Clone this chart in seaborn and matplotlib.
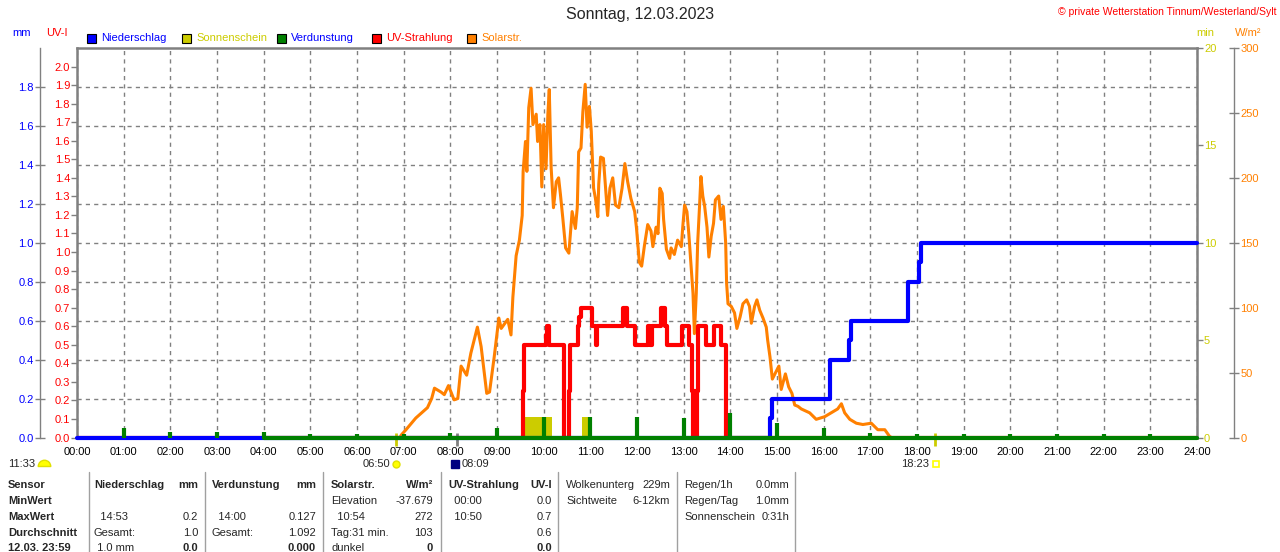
import matplotlib
matplotlib.use("Agg")
import matplotlib.pyplot as plt
import matplotlib.path as mpath
from matplotlib.lines import Line2D
from matplotlib.patches import Rectangle
import numpy as np
import seaborn as sns

sns.set_style("white")
plt.rcParams["font.family"] = ["Liberation Sans", "DejaVu Sans"]

GRAY = "#808080"
BLUE = "#0000ff"
RED = "#ff0000"
GREEN = "#008000"
ORANGE = "#ff8000"
YELLOW = "#cccc00"

# --- data (hours of the day) ---
hours = list(range(25))
hour_labels = [f"{h:02d}:00" for h in hours]

uv_ticks = [i / 10 for i in range(21)]
uv_labels = [f"{i / 10:.1f}" for i in range(21)]
mm_ticks = [i / 5 for i in range(10)]
mm_labels = [f"{i / 5:.1f}" for i in range(10)]
min_ticks = [0, 5, 10, 15, 20]
w_ticks = [0, 50, 100, 150, 200, 250, 300]

rain_t = [0, 14.86, 14.89, 16.14, 16.55, 16.58, 17.80, 18.05, 18.09, 24]
rain_mm = [0, 0.1, 0.2, 0.4, 0.5, 0.6, 0.8, 0.9, 1.0, 1.0]

uv_t = [0, 9.55, 9.57, 10.06, 10.08, 10.11, 10.44, 10.54, 10.56, 10.73, 10.76,
        10.79, 11.03, 11.12, 11.15, 11.69, 11.78, 11.95, 12.24, 12.28, 12.32,
        12.52, 12.59, 12.64, 12.97, 13.11, 13.18, 13.20, 13.23, 13.26, 13.28,
        13.31, 13.47, 13.64, 13.80, 13.91, 24]
uv_val = [0, 0.25, 0.5, 0.55, 0.6, 0.5, 0.0, 0.25, 0.5, 0.6, 0.65,
          0.7, 0.6, 0.5, 0.6, 0.7, 0.6, 0.5, 0.6, 0.5, 0.6,
          0.7, 0.6, 0.5, 0.6, 0.5, 0.25, 0.0, 0.25, 0.0, 0.25,
          0.6, 0.5, 0.6, 0.5, 0.0, 0.0]

solar_t = [6.92, 6.95, 7.05, 7.26, 7.51, 7.60, 7.66, 7.80, 7.87, 7.96, 8.08, 8.16,
           8.23, 8.35, 8.44, 8.58, 8.66, 8.78, 8.84, 8.94, 9.04, 9.09, 9.23, 9.30,
           9.34, 9.41, 9.48, 9.54, 9.56, 9.61, 9.64, 9.68, 9.73, 9.77, 9.84, 9.87,
           9.92, 9.96, 10.00, 10.05, 10.09, 10.12, 10.16, 10.21, 10.27, 10.32, 10.36,
           10.41, 10.47, 10.54, 10.61, 10.68, 10.72, 10.75, 10.80, 10.84, 10.89, 10.93,
           10.98, 11.02, 11.07, 11.11, 11.16, 11.18, 11.22, 11.28, 11.32, 11.37, 11.42,
           11.48, 11.54, 11.61, 11.68, 11.74, 11.80, 11.87, 11.95, 11.99, 12.05, 12.10,
           12.16, 12.23, 12.30, 12.34, 12.41, 12.45, 12.49, 12.54, 12.57, 12.63, 12.70,
           12.73, 12.80, 12.87, 12.95, 12.98, 13.02, 13.07, 13.11, 13.16, 13.20, 13.23,
           13.27, 13.30, 13.34, 13.37, 13.41, 13.45, 13.50, 13.54, 13.59, 13.64, 13.68,
           13.75, 13.80, 13.85, 13.90, 13.92, 13.95, 14.02, 14.09, 14.14, 14.21, 14.27,
           14.35, 14.41, 14.45, 14.52, 14.57, 14.63, 14.70, 14.77, 14.80, 14.85, 14.90,
           14.97, 15.04, 15.09, 15.18, 15.25, 15.32, 15.38, 15.45, 15.52, 15.70, 15.84,
           16.02, 16.16, 16.30, 16.38, 16.45, 16.56, 16.70, 16.84, 17.02, 17.16, 17.31,
           17.41, 17.45]
solar_w = [0, 2, 6, 15, 23, 30, 38, 35, 33, 40, 29, 30,
           55, 48, 65, 85, 70, 34, 35, 62, 92, 84, 91, 79,
           108, 140, 152, 171, 205, 228, 205, 254, 269, 241, 249, 228,
           241, 193, 241, 207, 249, 268, 208, 177, 197, 200, 187,
           169, 146, 142, 174, 161, 177, 220, 223, 251, 272, 239,
           255, 236, 192, 184, 170, 195, 216, 215, 195, 171, 192,
           200, 179, 177, 192, 211, 197, 184, 174, 161, 135, 132,
           148, 164, 159, 147, 162, 157, 192, 188, 168, 145, 138,
           146, 141, 152, 147, 162, 179, 174, 157, 132, 111, 80,
           111, 150, 178, 201, 186, 178, 162, 139, 155, 165, 183,
           186, 168, 178, 150, 119, 103, 101, 96, 84, 93, 103,
           106, 101, 88, 101, 106, 98, 92, 85, 75, 62, 45,
           50, 55, 37, 49, 39, 34, 25, 24, 22, 19, 14,
           16, 19, 22, 26, 19, 14, 11, 10, 11, 6, 6,
           1, 0]

evap_t = list(range(1, 24))
evap_mm = [0.048, 0.026, 0.026, 0.026, 0.02, 0.02, 0.02, 0.025, 0.047, 0.104,
           0.104, 0.104, 0.10, 0.127, 0.076, 0.047, 0.025, 0.02, 0.02, 0.02,
           0.02, 0.02, 0.02]
evap_base_t = [4, 24]
evap_base_mm = [0, 0]

sun_start = [9.60, 10.82]
sun_end = [10.18, 10.94]
sun_min = [1.05, 1.05]

event_t = [6.833, 8.15, 18.383]
event_labels = ["06:50", "08:09", "18:23"]
day_length = "11:33"

legend_names = ["Niederschlag", "Sonnenschein", "Verdunstung", "UV-Strahlung", "Solarstr."]
legend_colors = [BLUE, YELLOW, GREEN, RED, ORANGE]
legend_text_colors = [BLUE, YELLOW, BLUE, RED, ORANGE]

row_labels = ["Sensor", "MinWert", "MaxWert", "Durchschnitt", "12.03. 23:59"]
table_cols = [
    [("Niederschlag", "mm"), ("", ""), ("  14:53", "0.2"), ("Gesamt:", "1.0"), (" 1.0 mm", "0.0")],
    [("Verdunstung", "mm"), ("", ""), ("  14:00", "0.127"), ("Gesamt:", "1.092"), ("", "0.000")],
    [("Solarstr.", "W/m²"), ("Elevation", "-37.679"), ("  10:54", "272"), ("Tag:31 min.", "103"), ("dunkel", "0")],
    [("UV-Strahlung", "UV-I"), ("  00:00", "0.0"), ("  10:50", "0.7"), ("", "0.6"), ("", "0.0")],
    [("Wolkenunterg", "229m"), ("Sichtweite", "6-12km")],
    [("Regen/1h", "0.0mm"), ("Regen/Tag", "1.0mm"), ("Sonnenschein", "0:31h")],
]


def fx(px):
    return px / 1280


def fy(py):
    return 1 - py / 552


fig = plt.figure(figsize=(12.8, 5.52), dpi=100)
fig.patch.set_facecolor("white")

ax = fig.add_axes([fx(77), fy(437.5), fx(1197) - fx(77), fy(48) - fy(437.5)])
ax.set_facecolor("white")
ax.set_xlim(0, 24)
ax.set_ylim(0, 2.1)
ax.set_xticks(hours)
ax.set_xticklabels(hour_labels, fontsize=8)
ax.set_yticks(uv_ticks)
ax.set_yticklabels(uv_labels, fontsize=8)
ax.tick_params(axis="x", colors=GRAY, labelcolor="black", length=5, width=1, pad=2)
ax.tick_params(axis="y", colors=GRAY, labelcolor=RED, length=4, width=1, pad=1)
ax.grid(axis="x", color=GRAY, ls=(0, (3, 3)), lw=1)
ax.hlines([v / 2.0 for v in mm_ticks[1:]], 0, 1, transform=ax.transAxes,
          colors=GRAY, linestyles=(0, (3, 3)), lw=1)
for s in ax.spines.values():
    s.set_color(GRAY)
    s.set_linewidth(1.8)

# sunshine minutes (right inner axis)
ax_min = ax.twinx()
ax_min.set_ylim(0, 20)
ax_min.set_yticks(min_ticks)
ax_min.tick_params(axis="y", colors=GRAY, labelcolor=YELLOW, length=4, width=1, pad=1, labelsize=8)
ax_min.bar(sun_start, sun_min, width=np.subtract(sun_end, sun_start), align="edge",
           color=YELLOW, lw=0)

# solar radiation (right outer axis)
ax_w = ax.twinx()
ax_w.set_ylim(0, 300)
ax_w.set_yticks(w_ticks)
ax_w.spines["right"].set_position(("axes", 1.033))
ax_w.tick_params(axis="y", colors=GRAY, labelcolor=ORANGE, direction="inout",
                 length=7, width=1, pad=1, labelsize=8)
sns.lineplot(x=solar_t, y=solar_w, ax=ax_w, color=ORANGE, lw=2.2, estimator=None, sort=False)

# UV index line on its own layer above the solar curve
ax_uv = ax.twinx()
ax_uv.set_ylim(0, 2.1)
ax_uv.set_yticks([])
sns.lineplot(x=uv_t, y=uv_val, ax=ax_uv, color=RED, lw=3, estimator=None, sort=False,
             drawstyle="steps-post")

# rain + evaporation (left outer axis, mm)
ax_mm = ax.twinx()
ax_mm.set_ylim(0, 2.0)
ax_mm.yaxis.tick_left()
ax_mm.spines["left"].set_position(("axes", -0.033))
ax_mm.set_yticks(mm_ticks)
ax_mm.set_yticklabels(mm_labels)
ax_mm.tick_params(axis="y", colors=GRAY, labelcolor=BLUE, direction="inout",
                  length=7, width=1, pad=1, labelsize=8)
sns.lineplot(x=rain_t, y=rain_mm, ax=ax_mm, color=BLUE, lw=3, estimator=None, sort=False,
             drawstyle="steps-post", clip_on=False)
sns.lineplot(x=evap_base_t, y=evap_base_mm, ax=ax_mm, color=GREEN, lw=3,
             estimator=None, sort=False, clip_on=False)
ax_mm.vlines(evap_t, 0, evap_mm, colors=GREEN, lw=3)

for a in (ax_min, ax_w, ax_uv, ax_mm):
    a.set_xlim(0, 24)
    a.set_xlabel("")
    a.set_ylabel("")
    for s in a.spines.values():
        s.set_visible(False)
ax_w.spines["right"].set_visible(True)
ax_w.spines["right"].set_color(GRAY)
ax_w.spines["right"].set_linewidth(1)
ax_mm.spines["left"].set_visible(True)
ax_mm.spines["left"].set_color(GRAY)
ax_mm.spines["left"].set_linewidth(1)

# sunrise / sunset markers under the time axis
xt = ax.get_xaxis_transform()
ax.vlines(event_t, -0.022, 0.012, transform=xt, colors=[YELLOW, GRAY, YELLOW], lw=2, clip_on=False)
ax.annotate(event_labels[0], xy=(event_t[0], 0), xycoords=xt, xytext=(-4, -19),
            textcoords="offset points", ha="right", va="center", fontsize=8)
ax.plot([event_t[0]], [-0.068], transform=xt, marker="o", ms=5, color="#ffff00",
        mec="#e0e000", clip_on=False)
ax.annotate(event_labels[1], xy=(event_t[1], 0), xycoords=xt, xytext=(3, -19),
            textcoords="offset points", ha="left", va="center", fontsize=8)
ax.plot([event_t[1] - 0.04], [-0.068], transform=xt, marker="s", ms=6, color="#000080",
        mec="#000080", clip_on=False)
ax.annotate(event_labels[2], xy=(event_t[2], 0), xycoords=xt, xytext=(-4, -19),
            textcoords="offset points", ha="right", va="center", fontsize=8)
ax.plot([event_t[2] + 0.03], [-0.068], transform=xt, marker="s", ms=5, mfc="none",
        mec="#ffff00", mew=1.2, clip_on=False)
fig.text(fx(8), fy(464), day_length, fontsize=8, va="center", ha="left")
fig.add_artist(Line2D([fx(44)], [fy(466)], marker=mpath.Path.wedge(0, 180), ms=9,
                      color="#ffff00", mec="#e0e000", transform=fig.transFigure))

# header texts
fig.text(0.5, fy(15), "Sonntag, 12.03.2023", fontsize=11.5, ha="center", va="center")
fig.text(fx(1276), fy(12), "© private Wetterstation Tinnum/Westerland/Sylt", fontsize=7.5,
         color=RED, ha="right", va="center")
fig.text(fx(22), fy(33), "mm", fontsize=8, color=BLUE, ha="center", va="center")
fig.text(fx(57), fy(33), "UV-I", fontsize=8, color=RED, ha="center", va="center")
fig.text(fx(1205), fy(33), "min", fontsize=8, color=YELLOW, ha="center", va="center")
fig.text(fx(1248), fy(33), "W/m²", fontsize=8, color=ORANGE, ha="center", va="center")

legend_x = [87, 182, 277, 372, 467]
for lx, name, c, tc in zip(legend_x, legend_names, legend_colors, legend_text_colors):
    fig.add_artist(Rectangle((fx(lx), fy(43)), 9 / 1280, 9 / 552, transform=fig.transFigure,
                             facecolor=c, edgecolor="black", lw=0.8))
    fig.text(fx(lx + 14), fy(38), name, fontsize=8, color=tc, ha="left", va="center")

# statistics table
row_y = [485, 501, 517, 533, 548]
col_left = [94, 212, 331, 448, 566, 684]
col_right = [198, 316, 433, 552, 670, 789]
separators = [89, 205, 323, 441, 558, 677, 795]
for sx in separators:
    fig.add_artist(Line2D([fx(sx), fx(sx)], [fy(472), 0], color="#a0a0a0", lw=1,
                          transform=fig.transFigure))
for ry, lab in zip(row_y, row_labels):
    fig.text(fx(8), fy(ry), lab, fontsize=8, fontweight="bold", ha="left", va="center")
for ci, col in enumerate(table_cols):
    for ri, (left, right) in enumerate(col):
        bold_l = ri == 0 and ci < 4
        bold_r = (ri == 0 and ci < 4) or ri == 4
        fig.text(fx(col_left[ci]), fy(row_y[ri]), left, fontsize=8,
                 fontweight="bold" if bold_l else "normal", ha="left", va="center")
        fig.text(fx(col_right[ci]), fy(row_y[ri]), right, fontsize=8,
                 fontweight="bold" if bold_r else "normal", ha="right", va="center")

fig.savefig("out.png", dpi=100)
